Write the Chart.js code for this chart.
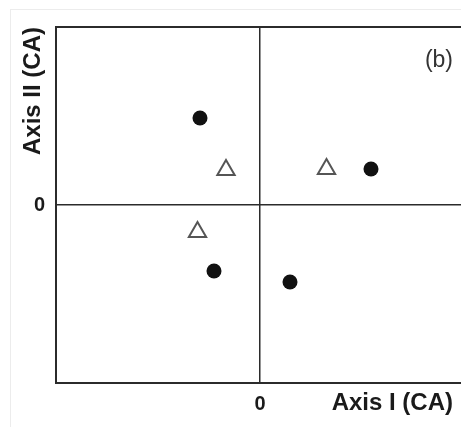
<!DOCTYPE html>
<html>
<head>
<meta charset="utf-8">
<style>
    html, body { margin: 0; padding: 0; background: #fff; overflow: hidden; }
    .frame {
        position: absolute;
        left: 10px;
        top: 9px;
        width: 460px;
        height: 430px;
        border-left: 1px solid #ececec;
        border-top: 1px solid #ececec;
    }
    .chart-box { position: absolute; left: 0; top: 0; width: 461px; height: 427px; overflow: hidden; }
</style>
<script src="https://cdn.jsdelivr.net/npm/chart.js@4/dist/chart.umd.min.js"></script>
</head>
<body>
<div class="frame"></div>
<div class="chart-box"><canvas id="caChart" width="473" height="427"></canvas></div>
<script>
// CA scores (axis I, axis II)
const rowAxisI = [-0.60, 1.11, -0.46, 0.30];
const rowAxisII = [0.87, 0.36, -0.66, -0.77];
const colAxisI = [-0.34, 0.665, -0.625];
const colAxisII = [0.35, 0.36, -0.27];

const xRange = [-2.04, 2.01];
const yRange = [-1.78, 1.78];
const tickValues = [0];

const ink = "#2b2b2b";
const font = "'Liberation Sans', Arial, sans-serif";

const toPoints = (xs, ys) => xs.map((x, i) => ({ x, y: ys[i] }));

const panelLabels = {
    id: "panelLabels",
    afterDraw(chart) {
        const { ctx } = chart;
        ctx.save();
        ctx.fillStyle = "#333";
        ctx.font = `23px ${font}`;
        ctx.textAlign = "right";
        ctx.textBaseline = "middle";
        ctx.fillText("(b)", 453, 61);

        ctx.fillStyle = "#1a1a1a";
        ctx.font = `bold 24px ${font}`;
        ctx.fillText("Axis I (CA)", 453, 403);
        ctx.restore();
    }
};

function onlyZeroTick(scale) {
    scale.ticks = tickValues.map((value) => ({ value }));
}

function fixHeight(height) {
    return (scale) => {
        scale.height = height;
        scale.paddingLeft = 0;
        scale.paddingRight = 0;
    };
}

document.addEventListener("DOMContentLoaded", () => {
    new Chart(document.getElementById("caChart"), {
        type: "scatter",
        data: {
            datasets: [
                {
                    label: "rows",
                    data: toPoints(rowAxisI, rowAxisII),
                    pointStyle: "circle",
                    pointRadius: 7.5,
                    backgroundColor: "#111",
                    borderColor: "#111",
                    borderWidth: 0
                },
                {
                    label: "columns",
                    data: toPoints(colAxisI, colAxisII),
                    pointStyle: "triangle",
                    pointRadius: 10,
                    backgroundColor: "#fff",
                    borderColor: "#555",
                    borderWidth: 2
                }
            ]
        },
        options: {
            responsive: false,
            animation: false,
            layout: { padding: 0 },
            plugins: {
                legend: { display: false },
                tooltip: { enabled: false }
            },
            scales: {
                x: {
                    min: xRange[0],
                    max: xRange[1],
                    afterBuildTicks: onlyZeroTick,
                    afterFit: fixHeight(44),
                    grid: { color: ink, lineWidth: 1.5, drawTicks: false },
                    border: { color: ink, width: 2 },
                    ticks: {
                        padding: 9,
                        color: "#1a1a1a",
                        font: { family: font, size: 20, weight: "bold" },
                        callback: (value) => value
                    }
                },
                xTop: {
                    type: "linear",
                    position: "top",
                    min: xRange[0],
                    max: xRange[1],
                    afterBuildTicks: onlyZeroTick,
                    afterFit: fixHeight(27),
                    grid: { display: false, drawTicks: false },
                    border: { color: ink, width: 2 },
                    ticks: { display: false }
                },
                y: {
                    min: yRange[0],
                    max: yRange[1],
                    afterBuildTicks: onlyZeroTick,
                    afterFit: (scale) => {
                        scale.width = 56;
                        scale.paddingTop = 0;
                        scale.paddingBottom = 0;
                    },
                    grid: { color: ink, lineWidth: 1.5, drawTicks: false },
                    border: { color: ink, width: 2 },
                    ticks: {
                        padding: 11,
                        color: "#1a1a1a",
                        font: { family: font, size: 20, weight: "bold" },
                        callback: (value) => value
                    },
                    title: {
                        display: true,
                        text: "Axis II (CA)",
                        align: "end",
                        color: "#1a1a1a",
                        font: { family: font, size: 24, weight: "bold" },
                        padding: { top: 19, bottom: 0 }
                    }
                }
            }
        },
        plugins: [panelLabels]
    });
});
</script>
</body>
</html>
